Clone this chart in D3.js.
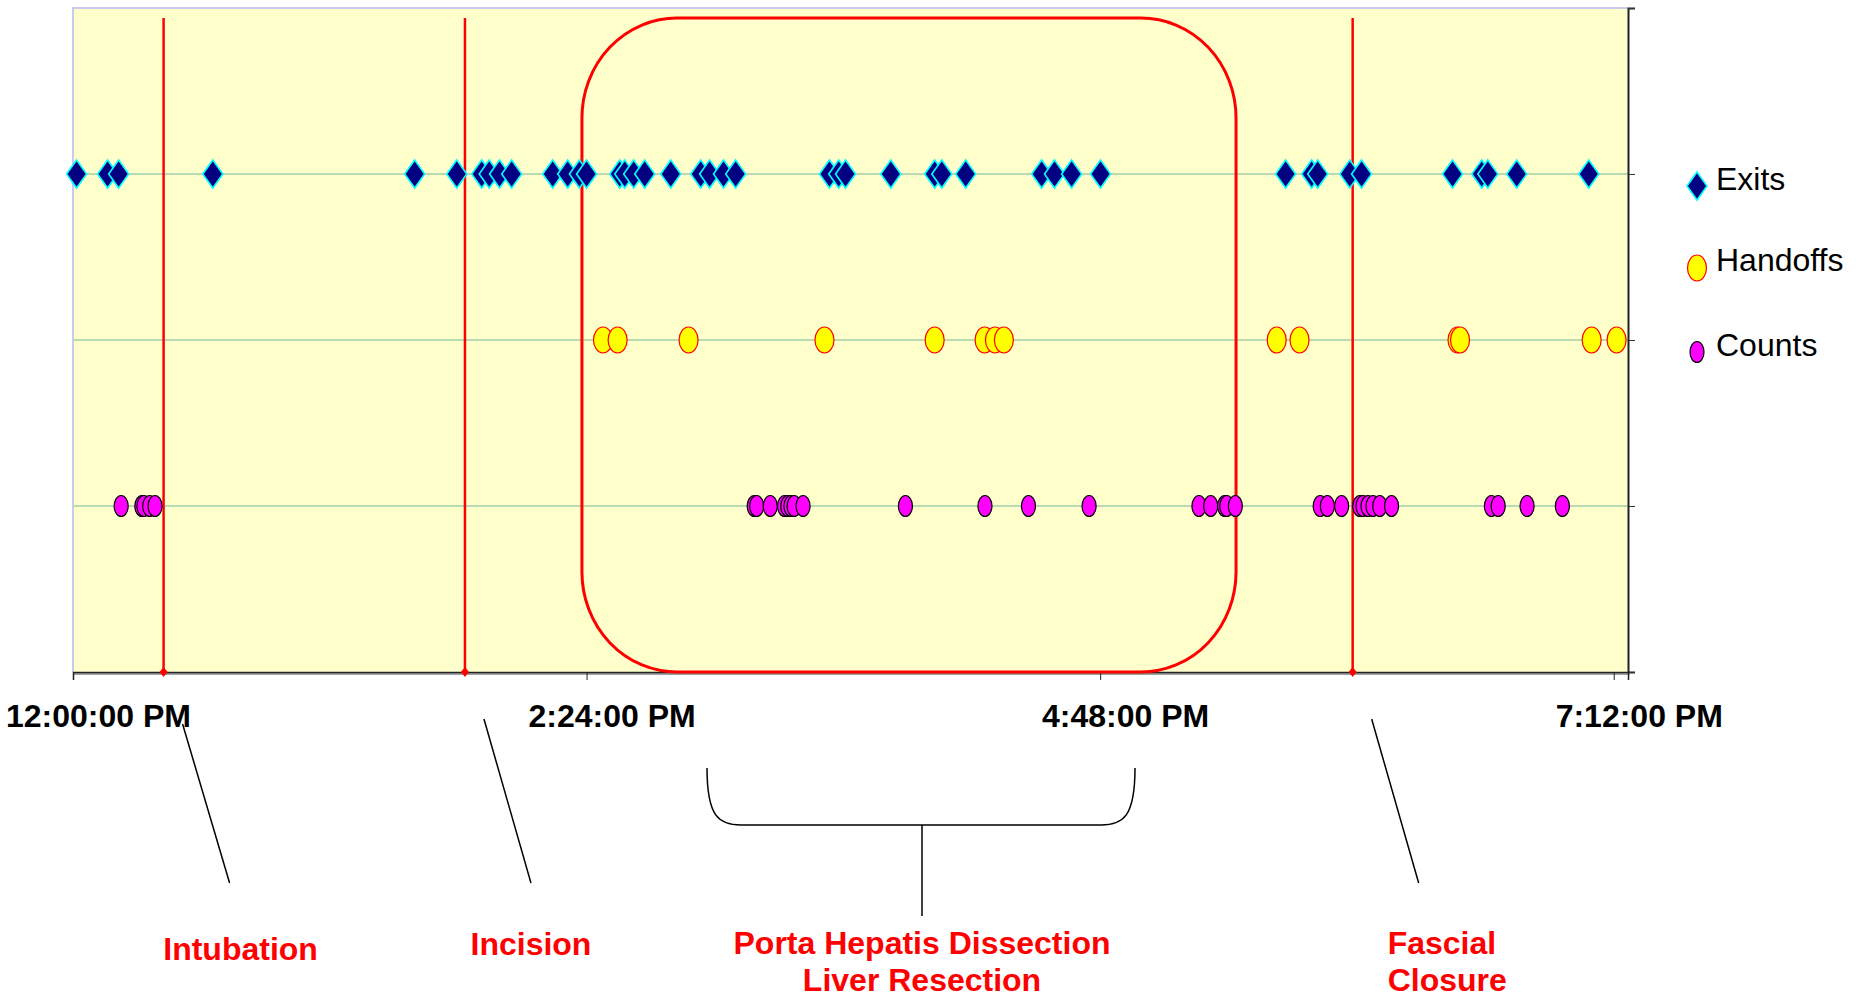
<!DOCTYPE html>
<html>
<head>
<meta charset="utf-8">
<script src="https://cdn.jsdelivr.net/npm/d3@7"></script>
<style>
  body { margin: 0; background: #fff; }
  svg { display: block; font-family: "Liberation Sans", Arial, sans-serif; }
</style>
</head>
<body>
<div id="chart"></div>
<script>
// times of each observed event (24h clock, same day)
const exitTimes = ["12:01:00","12:09:42","12:12:48","12:39:12","13:35:48","13:47:36","13:54:36","13:56:42",
  "13:59:36","14:03:00","14:14:30","14:18:42","14:22:00","14:24:00","14:33:18","14:34:42","14:37:12",
  "14:40:18","14:47:36","14:56:00","14:58:30","15:02:24","15:05:48","15:32:06","15:34:42","15:36:36",
  "15:49:18","16:01:36","16:03:36","16:10:18","16:31:36","16:35:12","16:40:00","16:48:06","17:40:00",
  "17:47:18","17:49:00","17:58:00","18:01:18","18:26:48","18:35:00","18:36:42","18:44:48","19:05:00"];
const handoffTimes = ["14:28:36","14:32:42","14:52:36","15:30:42","16:01:36","16:15:36","16:18:30","16:21:00",
  "17:37:30","17:43:54","18:28:12","18:28:54","19:05:48","19:12:48"];
const countTimes = ["12:13:30","12:19:18","12:19:54","12:21:30","12:23:00","15:11:00","15:11:42","15:15:30",
  "15:19:30","15:20:24","15:21:18","15:22:12","15:24:42","15:53:24","16:15:42","16:27:54","16:44:54",
  "17:15:42","17:19:00","17:22:54","17:23:30","17:25:54","17:49:42","17:51:42","17:55:42","18:00:48",
  "18:01:42","18:03:06","18:04:30","18:06:24","18:09:42","18:37:42","18:39:36","18:47:42","18:57:36"];

const seriesNames = ["Exits", "Handoffs", "Counts"];
const seriesRows = [3, 2, 1];

const eventNames = ["Intubation", "Incision", "Fascial Closure"];
const eventTimes = ["12:25:24", "13:49:54", "17:58:48"];

const phaseLabel = ["Porta Hepatis Dissection", "Liver Resection"];
const phaseStart = "14:22:42";
const phaseEnd = "17:26:06";

const axisStart = "12:00:00", axisEnd = "19:16:00";
const tickTimes = ["12:00:00", "14:24:00", "16:48:00", "19:12:00"];

const W = 1858, H = 997;
const margin = {top: 8, right: 230, bottom: 325, left: 73};
const parse = d3.timeParse("%H:%M:%S");

const svg = d3.select("#chart").append("svg")
    .attr("width", W).attr("height", H);

const x = d3.scaleTime()
    .domain([parse(axisStart), parse(axisEnd)])
    .range([margin.left, W - margin.right]);
const y = d3.scaleLinear()
    .domain([0, 4])
    .range([H - margin.bottom, margin.top]);

// plot area
svg.append("rect")
    .attr("x", x.range()[0]).attr("y", y(4))
    .attr("width", x.range()[1] - x.range()[0])
    .attr("height", y(0) - y(4))
    .attr("fill", "#ffffcc");
svg.append("path")
    .attr("d", `M${x.range()[0]},${y(0)}V${y(4)}H${x.range()[1]}`)
    .attr("fill", "none").attr("stroke", "#c8cbef").attr("stroke-width", 2);

// gridlines
svg.append("g").selectAll("line")
    .data([1, 2, 3]).join("line")
    .attr("x1", x.range()[0]).attr("x2", x.range()[1])
    .attr("y1", d => y(d)).attr("y2", d => y(d))
    .attr("stroke", "#b9dbb4").attr("stroke-width", 2);

// right axis (no labels)
const yAxis = svg.append("g")
    .attr("transform", `translate(${x.range()[1]},0)`)
    .call(d3.axisRight(y).tickValues([0, 1, 2, 3, 4]).tickSize(7).tickFormat(""));
yAxis.select(".domain").attr("stroke", "#222").attr("stroke-width", 2);
yAxis.selectAll(".tick line").attr("stroke", "#333");

// bottom axis
svg.append("line")
    .attr("x1", x.range()[0]).attr("x2", x.range()[1] + 2)
    .attr("y1", y(0) + 2).attr("y2", y(0) + 2)
    .attr("stroke", "#a0a0a0").attr("stroke-width", 2);
const xAxis = svg.append("g")
    .attr("transform", `translate(0,${y(0)})`)
    .call(d3.axisBottom(x)
        .tickValues(tickTimes.map(parse))
        .tickSize(8)
        .tickFormat(d3.timeFormat("%-I:%M:%S %p")));
xAxis.select(".domain").attr("stroke", "#222").attr("stroke-width", 1.5);
xAxis.selectAll(".tick line").attr("stroke", "#222");
xAxis.selectAll(".tick text")
    .attr("y", 55).attr("dy", 0).attr("dx", 25)
    .attr("fill", "#000")
    .style("font-size", "32px").style("font-weight", "bold")
    .style("font-family", "'Liberation Sans', Arial, sans-serif");

// phase box
const boxTop = y(4) + 10;
svg.append("rect")
    .attr("x", x(parse(phaseStart))).attr("y", boxTop)
    .attr("width", x(parse(phaseEnd)) - x(parse(phaseStart)))
    .attr("height", y(0) - boxTop)
    .attr("rx", 95).attr("ry", 100)
    .attr("fill", "none").attr("stroke", "#ff0000").attr("stroke-width", 3);

// event lines
const events = eventNames.map((n, i) => ({name: n, t: parse(eventTimes[i])}));
const ev = svg.append("g").selectAll("g").data(events).join("g");
ev.append("line")
    .attr("x1", d => x(d.t)).attr("x2", d => x(d.t))
    .attr("y1", boxTop).attr("y2", y(0))
    .attr("stroke", "#ff0000").attr("stroke-width", 2.5);
ev.append("path")
    .attr("d", d => `M${x(d.t)},${y(0) - 5}l4,5l-4,5l-4,-5z`)
    .attr("fill", "#ff0000");

// markers
function diamond(w, h) { return `M0,${-h}L${w},0L0,${h}L${-w},0Z`; }

const series = [
  {name: seriesNames[0], row: seriesRows[0], times: exitTimes},
  {name: seriesNames[1], row: seriesRows[1], times: handoffTimes},
  {name: seriesNames[2], row: seriesRows[2], times: countTimes}
];

function drawMarker(sel, name) {
  if (name === "Exits") {
    sel.append("path").attr("d", diamond(10, 14))
        .attr("fill", "#000080").attr("stroke", "#00ffff").attr("stroke-width", 1.6);
  } else if (name === "Handoffs") {
    sel.append("ellipse").attr("rx", 9.5).attr("ry", 13)
        .attr("fill", "#ffff00").attr("stroke", "#ff0000").attr("stroke-width", 1.2);
  } else {
    sel.append("ellipse").attr("rx", 7).attr("ry", 10.5)
        .attr("fill", "#ff00ff").attr("stroke", "#000").attr("stroke-width", 1.2);
  }
}

series.forEach(s => {
  svg.append("g").selectAll("g")
      .data(s.times.map(parse)).join("g")
      .attr("transform", d => `translate(${x(d)},${y(s.row)})`)
      .each(function() { drawMarker(d3.select(this), s.name); });
});

// legend
const legendY = [186, 268, 352];
const legend = svg.append("g").selectAll("g").data(series).join("g")
    .attr("transform", (d, i) => `translate(1697,${legendY[i]})`);
legend.each(function(d) { drawMarker(d3.select(this), d.name); });
legend.append("text")
    .attr("x", 19).attr("y", (d, i) => [4, 3, 4][i])
    .style("font-size", "32px").attr("fill", "#000")
    .text(d => d.name);

// annotations below the axis
const ann = svg.append("g").attr("fill", "none").attr("stroke", "#000").attr("stroke-width", 1.5);
events.forEach((d, i) => {
  const ex = x(d.t);
  ann.append("line")
      .attr("x1", ex + 19).attr("y1", i === 0 ? 724 : 719)
      .attr("x2", ex + 66).attr("y2", 883);
});

// brace under the phase box
const bx0 = 707, bx1 = 1135, by0 = 768, by1 = 825, bmid = 922;
ann.append("path")
    .attr("d", `M${bx0},${by0}C${bx0},${by1 - 8} ${bx0 + 12},${by1} ${bx0 + 34},${by1}` +
               `L${bx1 - 34},${by1}C${bx1 - 12},${by1} ${bx1},${by1 - 8} ${bx1},${by0}`);
ann.append("line").attr("x1", bmid).attr("x2", bmid).attr("y1", by1).attr("y2", 916);

const labelStyle = sel => sel.attr("fill", "#ff0000")
    .style("font-size", "32px").style("font-weight", "bold");

svg.append("text").call(labelStyle)
    .attr("x", x(events[0].t) + 77).attr("y", 960).attr("text-anchor", "middle")
    .text(eventNames[0]);
svg.append("text").call(labelStyle)
    .attr("x", x(events[1].t) + 66).attr("y", 955).attr("text-anchor", "middle")
    .text(eventNames[1]);
svg.append("text").call(labelStyle)
    .attr("x", x(events[2].t) + 35).attr("y", 954)
    .selectAll("tspan").data(eventNames[2].split(" ")).join("tspan")
    .attr("x", x(events[2].t) + 35).attr("dy", (d, i) => i ? 37 : 0)
    .text(d => d);
svg.append("text").call(labelStyle)
    .attr("text-anchor", "middle").attr("y", 954)
    .selectAll("tspan").data(phaseLabel).join("tspan")
    .attr("x", bmid).attr("dy", (d, i) => i ? 37 : 0)
    .text(d => d);
</script>
</body>
</html>
